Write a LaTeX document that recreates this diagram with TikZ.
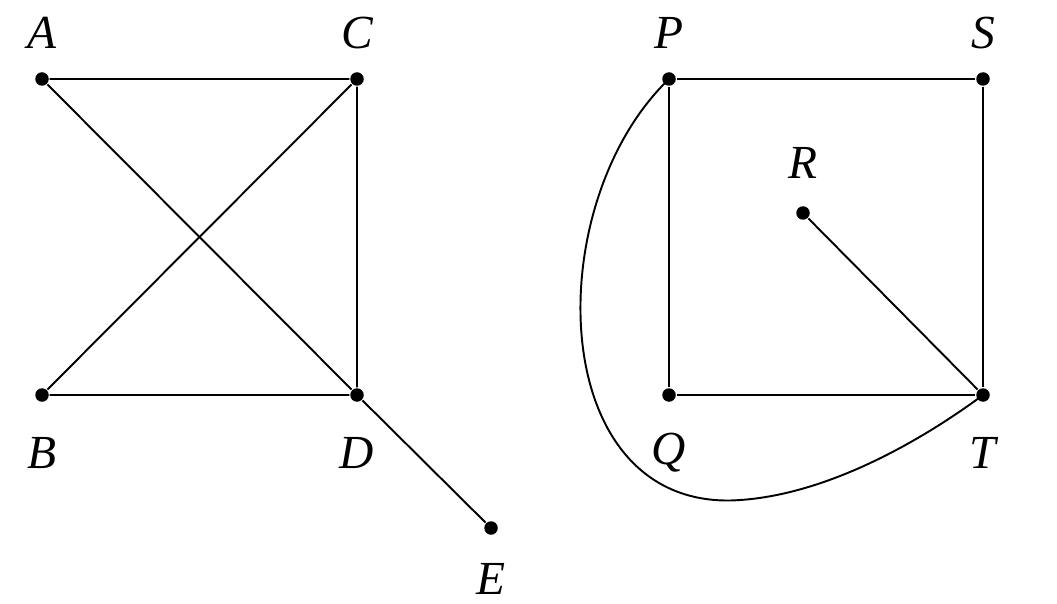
\documentclass[tikz,border=0pt]{standalone}
\usepackage{fontspec}
\setmainfont{Liberation Serif}
\begin{document}
\begin{tikzpicture}[vtx/.style={circle, fill, inner sep=0pt, minimum size=0.27cm}, lbl/.style={font=\fontsize{27}{29}\selectfont\itshape}, line width=1.1pt]
            \useasboundingbox (0,0) rectangle (21.14,12.06);
            % left graph
            \node[vtx] (A) at (0.84,10.48) {};
            \node[vtx] (C) at (7.14,10.48) {};
            \node[vtx] (B) at (0.84,4.16) {};
            \node[vtx] (D) at (7.14,4.16) {};
            \node[vtx] (E) at (9.82,1.5) {};
            \node[lbl] (la) at (0.84,11.4) {A};
            \node[lbl] (lc) at (7.14,11.4) {C};
            \node[lbl] (lb) at (0.84,3.0) {B};
            \node[lbl] (ld) at (7.14,3.0) {D};
            \node[lbl] (le) at (9.82,0.48) {E};
            \draw (A) -- (C) -- (D) -- (B) -- (C);
            \draw (A) -- (D) -- (E);
            % right graph
            \node[vtx] (P) at (13.38,10.48) {};
            \node[vtx] (S) at (19.66,10.48) {};
            \node[vtx] (R) at (16.06,7.80) {};
            \node[vtx] (Q) at (13.38,4.16) {};
            \node[vtx] (T) at (19.66,4.16) {};
            \node[lbl] (lp) at (13.38,11.4) {P};
            \node[lbl] (ls) at (19.66,11.4) {S};
            \node[lbl] (lr) at (16.06,8.8) {R};
            \node[lbl] (lq) at (13.38,3.0) {Q};
            \node[lbl] (lt) at (19.66,3.0) {T};
            \draw (P) -- (S) -- (T) -- (Q) -- (P);
            \draw (R) -- (T);
            \draw (P.center) .. controls (10.8,8.0) and (10.9,2.0) .. (14.6,2.05) .. controls (16.5,2.1) and (18.5,3.3) .. (T.center);
        \end{tikzpicture}
\end{document}
